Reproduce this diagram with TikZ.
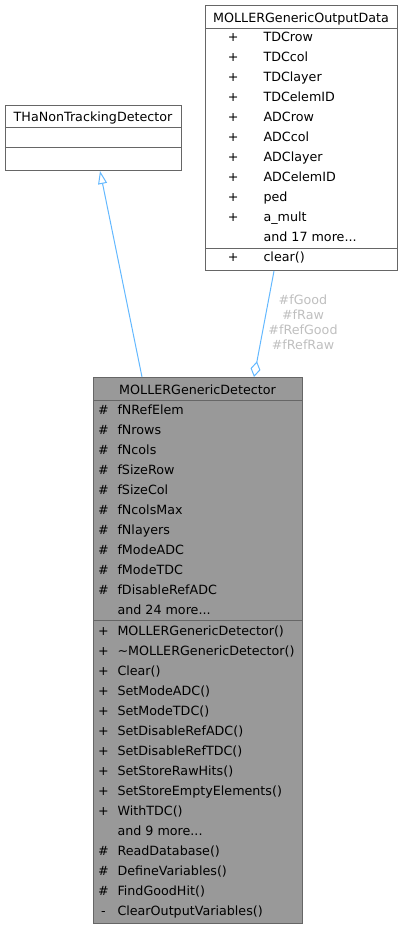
\documentclass[tikz,border=0pt]{standalone}
\usepackage{fontspec}
\setmainfont{DejaVu Sans}
\usetikzlibrary{arrows.meta,calc}

\definecolor{boxline}{HTML}{666666}
\definecolor{boxfill}{HTML}{999999}
\definecolor{edgeblue}{HTML}{63B8FF}
\definecolor{rolegrey}{HTML}{BFBFBF}

\tikzset{every picture/.style={line width=1pt},
  every node/.style={font=\fontsize{12.7}{14.7}\selectfont},
  classbox/.style={draw=boxline,inner sep=0pt,anchor=north west},
  member/.style={anchor=base west,inner sep=0pt},
  vis/.style={anchor=base,inner sep=0pt},
  title/.style={anchor=base,inner sep=0pt}}

\begin{document}
\begin{tikzpicture}[x=1pt,y=1pt,yscale=-1,xscale=1]
\useasboundingbox (0,0) rectangle (403,928);

%Shape: Class box MOLLERGenericOutputData
\node [classbox,minimum width=192pt,minimum height=265pt] (data) at (205,5) {};
\draw [boxline] (205,29) -- (397,29) ;
\draw [boxline] (205,248) -- (397,248) ;
%Shape: Class box THaNonTrackingDetector
\node [classbox,minimum width=176pt,minimum height=65pt] (base) at (5,105) {};
\draw [boxline] (5,128) -- (181,128) ;
\draw [boxline] (5,148) -- (181,148) ;
%Shape: Class box MOLLERGenericDetector
\node [classbox,fill=boxfill,minimum width=209pt,minimum height=546pt] (det) at (93,377) {};
\draw [boxline] (93,400.5) -- (302,400.5) ;
\draw [boxline] (93,620) -- (302,620) ;

%Inheritance
\draw [edgeblue,-{Triangle[open,length=13pt,width=9pt]}] ($(det.north west)+(49,0)$) -- ($(base.south west)+(95,0)$) ;
%Aggregation
\draw [edgeblue,{Diamond[open,length=16pt,width=10pt]}-] ($(det.north west)+(161,0)$) -- ($(data.south west)+(69,0)$) ;
% Text Node
\draw (303,349) node [anchor=base,align=center,inner sep=0pt,text=rolegrey] (roles) {\#fGood\\\#fRaw\\\#fRefGood\\\#fRefRaw};

% Text Node
\draw (301,22.5) node [title] (datatitle) {MOLLERGenericOutputData};
\draw (233.3,41.5) node [vis] (dvis1) {+};
\draw (263,41.5) node [member] (dattr1) {TDCrow};
\draw (233.3,61.5) node [vis] (dvis2) {+};
\draw (263,61.5) node [member] (dattr2) {TDCcol};
\draw (233.3,81.5) node [vis] (dvis3) {+};
\draw (263,81.5) node [member] (dattr3) {TDClayer};
\draw (233.3,101.5) node [vis] (dvis4) {+};
\draw (263,101.5) node [member] (dattr4) {TDCelemID};
\draw (233.3,121.5) node [vis] (dvis5) {+};
\draw (263,121.5) node [member] (dattr5) {ADCrow};
\draw (233.3,141.5) node [vis] (dvis6) {+};
\draw (263,141.5) node [member] (dattr6) {ADCcol};
\draw (233.3,161.5) node [vis] (dvis7) {+};
\draw (263,161.5) node [member] (dattr7) {ADClayer};
\draw (233.3,181.5) node [vis] (dvis8) {+};
\draw (263,181.5) node [member] (dattr8) {ADCelemID};
\draw (233.3,201.5) node [vis] (dvis9) {+};
\draw (263,201.5) node [member] (dattr9) {ped};
\draw (233.3,221.5) node [vis] (dvis10) {+};
\draw (263,221.5) node [member] (dattr10) {a\_mult};
\draw (263,241.5) node [member] (dattr11) {and 17 more...};
\draw (233.3,261.5) node [vis] (dvis12) {+};
\draw (263,261.5) node [member] (dmeth1) {clear()};

% Text Node
\draw (93,121.7) node [title] (basetitle) {THaNonTrackingDetector};

% Text Node
\draw (197.5,394) node [title] (dettitle) {MOLLERGenericDetector};
\draw (103.5,414) node [vis] (tvis1) {\#};
\draw (117,414) node [member] (tattr1) {fNRefElem};
\draw (103.5,434) node [vis] (tvis2) {\#};
\draw (117,434) node [member] (tattr2) {fNrows};
\draw (103.5,454) node [vis] (tvis3) {\#};
\draw (117,454) node [member] (tattr3) {fNcols};
\draw (103.5,474) node [vis] (tvis4) {\#};
\draw (117,474) node [member] (tattr4) {fSizeRow};
\draw (103.5,494) node [vis] (tvis5) {\#};
\draw (117,494) node [member] (tattr5) {fSizeCol};
\draw (103.5,514) node [vis] (tvis6) {\#};
\draw (117,514) node [member] (tattr6) {fNcolsMax};
\draw (103.5,534) node [vis] (tvis7) {\#};
\draw (117,534) node [member] (tattr7) {fNlayers};
\draw (103.5,554) node [vis] (tvis8) {\#};
\draw (117,554) node [member] (tattr8) {fModeADC};
\draw (103.5,574) node [vis] (tvis9) {\#};
\draw (117,574) node [member] (tattr9) {fModeTDC};
\draw (103.5,594) node [vis] (tvis10) {\#};
\draw (117,594) node [member] (tattr10) {fDisableRefADC};
\draw (117,614) node [member] (tattr11) {and 24 more...};
\draw (103.5,635) node [vis] (mvis1) {+};
\draw (117,635) node [member] (tmeth1) {MOLLERGenericDetector()};
\draw (103.5,655) node [vis] (mvis2) {+};
\draw (117,655) node [member] (tmeth2) {\textasciitilde MOLLERGenericDetector()};
\draw (103.5,675) node [vis] (mvis3) {+};
\draw (117,675) node [member] (tmeth3) {Clear()};
\draw (103.5,695) node [vis] (mvis4) {+};
\draw (117,695) node [member] (tmeth4) {SetModeADC()};
\draw (103.5,715) node [vis] (mvis5) {+};
\draw (117,715) node [member] (tmeth5) {SetModeTDC()};
\draw (103.5,735) node [vis] (mvis6) {+};
\draw (117,735) node [member] (tmeth6) {SetDisableRefADC()};
\draw (103.5,755) node [vis] (mvis7) {+};
\draw (117,755) node [member] (tmeth7) {SetDisableRefTDC()};
\draw (103.5,775) node [vis] (mvis8) {+};
\draw (117,775) node [member] (tmeth8) {SetStoreRawHits()};
\draw (103.5,795) node [vis] (mvis9) {+};
\draw (117,795) node [member] (tmeth9) {SetStoreEmptyElements()};
\draw (103.5,815) node [vis] (mvis10) {+};
\draw (117,815) node [member] (tmeth10) {WithTDC()};
\draw (117,835) node [member] (tmeth11) {and 9 more...};
\draw (103.5,855) node [vis] (mvis12) {\#};
\draw (117,855) node [member] (tmeth12) {ReadDatabase()};
\draw (103.5,875) node [vis] (mvis13) {\#};
\draw (117,875) node [member] (tmeth13) {DefineVariables()};
\draw (103.5,895) node [vis] (mvis14) {\#};
\draw (117,895) node [member] (tmeth14) {FindGoodHit()};
\draw (103.5,915) node [vis] (mvis15) {-};
\draw (117,915) node [member] (tmeth15) {ClearOutputVariables()};

\end{tikzpicture}
\end{document}
